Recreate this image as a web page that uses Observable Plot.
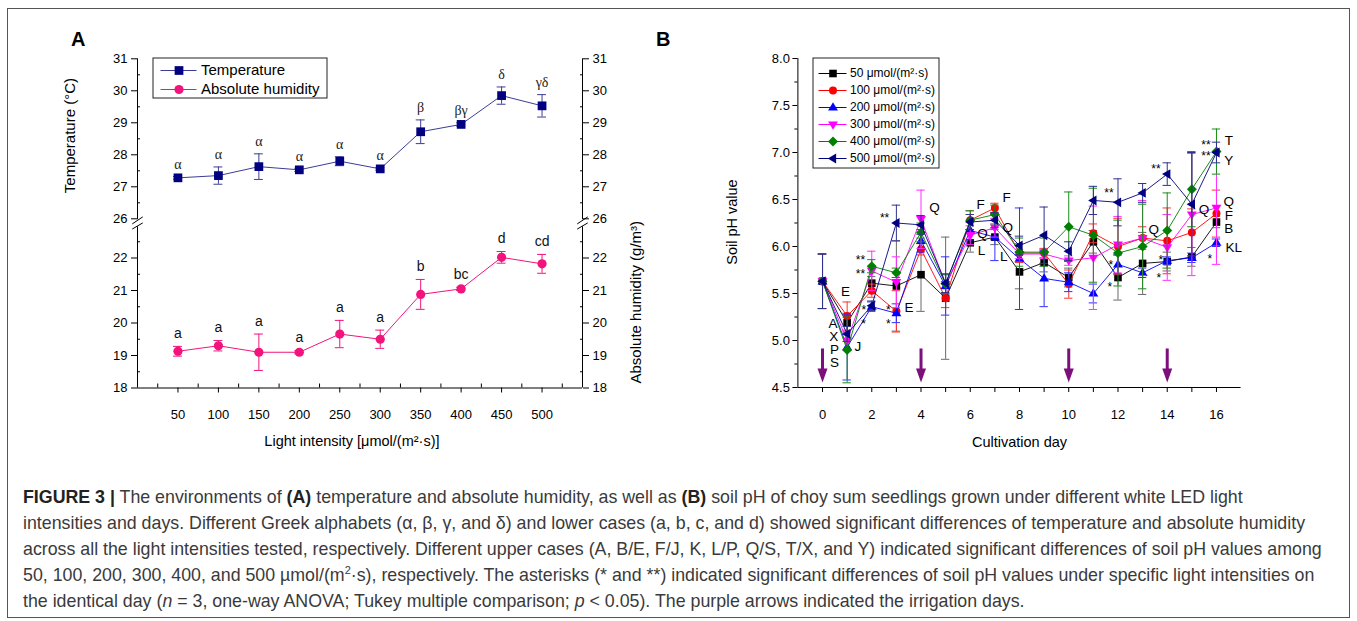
<!DOCTYPE html>
<html>
<head>
<meta charset="utf-8">
<script src="https://cdn.jsdelivr.net/npm/d3@7"></script>
<script src="https://cdn.jsdelivr.net/npm/@observablehq/plot@0.6"></script>
<style>
  body { margin: 0; background: #fff; }
  #fig { position: relative; width: 1357px; height: 621px; overflow: hidden; background: #fff;
         font-family: "Liberation Sans", Arial, sans-serif; }
  #border { position: absolute; left: 7px; top: 8px; width: 1343px; height: 610px;
            border: 1px solid #555; box-sizing: border-box; }
  .abs { position: absolute; }
  .plab { position: absolute; font-weight: bold; font-size: 20px; color: #000; }
  #caption { position: absolute; left: 23px; top: 484px; font-size: 17.8px; line-height: 26px;
             color: #3a3a3a; white-space: nowrap; }
  #caption b { color: #222; }
</style>
</head>
<body>
<div id="fig">
  <div id="border"></div>
  <div id="panelAtop" class="abs" style="left:0;top:0"></div>
  <div id="panelAbottom" class="abs" style="left:0;top:0"></div>
  <div id="legendA" class="abs" style="left:151.5px;top:56.5px"></div>
  <div id="panelB" class="abs" style="left:660px;top:0"></div>
  <div id="legendB" class="abs" style="left:812px;top:57px"></div>
  <div class="plab" style="left:71px;top:28px">A</div>
  <div class="plab" style="left:656px;top:28px">B</div>
  <div id="caption">
    <b>FIGURE 3 |</b> The environments of <b>(A)</b> temperature and absolute humidity, as well as <b>(B)</b> soil pH of choy sum seedlings grown under different white LED light<br>
    intensities and days. Different Greek alphabets (α, β, γ, and δ) and lower cases (a, b, c, and d) showed significant differences of temperature and absolute humidity<br>
    across all the light intensities tested, respectively. Different upper cases (A, B/E, F/J, K, L/P, Q/S, T/X, and Y) indicated significant differences of soil pH values among<br>
    50, 100, 200, 300, 400, and 500 µmol/(m<sup style="font-size:11px;line-height:0">2</sup>·s), respectively. The asterisks (* and **) indicated significant differences of soil pH values under specific light intensities on<br>
    the identical day (<i>n</i> = 3, one-way ANOVA; Tukey multiple comparison; <i>p</i> &lt; 0.05). The purple arrows indicated the irrigation days.
  </div>
</div>
<script>
// ---------------- Panel A data ----------------
const intensity = [50, 100, 150, 200, 250, 300, 350, 400, 450, 500];
const temperature = [27.28, 27.35, 27.63, 27.53, 27.80, 27.56, 28.72, 28.95, 29.85, 29.53];
const temperatureErr = [0.04, 0.27, 0.40, 0.05, 0.14, 0.04, 0.37, 0.05, 0.27, 0.35];
const temperatureGroups = ["α", "α", "α", "α", "α", "α", "β", "βγ", "δ", "γδ"];
const humidity = [19.13, 19.30, 19.10, 19.10, 19.66, 19.50, 20.88, 21.05, 22.02, 21.82];
const humidityErr = [0.15, 0.16, 0.56, 0.05, 0.42, 0.28, 0.46, 0.05, 0.18, 0.29];
const humidityGroups = ["a", "a", "a", "a", "a", "a", "b", "bc", "d", "cd"];
const tempTicks = [26, 27, 28, 29, 30, 31];
const humTicks = [18, 19, 20, 21, 22];
const tempMinor = [26.5, 27.5, 28.5, 29.5, 30.5];
const humMinor = [18.5, 19.5, 20.5, 21.5, 22.5];
const intensityMinor = [25, 75, 125, 175, 225, 275, 325, 375, 425, 475, 525];

// ---------------- Panel B data ----------------
const days = [0, 1, 2, 3, 4, 5, 6, 7, 8, 9, 10, 11, 12, 13, 14, 15, 16];
const seriesNames = ["50", "100", "200", "300", "400", "500"];
const ph50  = [5.63, 5.19, 5.61, 5.58, 5.70, 5.45, 6.04, 6.10, 5.73, 5.83, 5.67, 6.05, 5.67, 5.82, 5.84, 5.89, 6.26];
const ph100 = [5.63, 5.26, 5.53, 5.31, 5.97, 5.45, 6.28, 6.41, 5.93, 5.93, 5.60, 6.14, 6.00, 6.09, 6.06, 6.15, 6.35];
const ph200 = [5.63, 4.93, 5.36, 5.29, 6.06, 5.58, 6.17, 6.10, 5.87, 5.66, 5.62, 5.50, 5.81, 5.72, 5.85, 5.88, 6.04];
const ph300 = [5.63, 5.00, 5.74, 5.62, 6.29, 5.60, 6.12, 6.20, 5.92, 5.92, 5.85, 5.88, 6.02, 6.09, 5.99, 6.34, 6.41];
const ph400 = [5.63, 4.90, 5.79, 5.72, 6.15, 5.60, 6.28, 6.34, 5.94, 5.94, 6.21, 6.12, 5.93, 6.00, 6.17, 6.61, 7.01];
const ph500 = [5.63, 5.07, 5.37, 6.25, 6.23, 5.61, 6.26, 6.28, 6.01, 6.12, 5.95, 6.49, 6.47, 6.57, 6.77, 6.45, 7.00];
const err50  = [0.29, 0.10, 0.07, 0.48, 0.39, 0.65, 0.10, 0.08, 0.18, 0.10, 0.10, 0.12, 0.24, 0.33, 0.10, 0.10, 0.06];
const err100 = [0.29, 0.15, 0.07, 0.22, 0.06, 0.10, 0.10, 0.05, 0.10, 0.05, 0.15, 0.10, 0.30, 0.12, 0.35, 0.25, 0.25];
const err200 = [0.29, 0.35, 0.05, 0.10, 0.12, 0.31, 0.10, 0.25, 0.54, 0.30, 0.10, 0.10, 0.10, 0.05, 0.04, 0.05, 0.04];
const err300 = [0.29, 0.10, 0.21, 0.27, 0.31, 0.10, 0.10, 0.10, 0.05, 0.05, 0.05, 0.55, 0.30, 0.40, 0.35, 0.65, 0.60];
const err400 = [0.29, 0.35, 0.07, 0.05, 0.10, 0.10, 0.10, 0.10, 0.15, 0.15, 0.37, 0.50, 0.35, 0.45, 0.40, 0.40, 0.24];
const err500 = [0.29, 0.08, 0.05, 0.19, 0.10, 0.10, 0.08, 0.08, 0.10, 0.30, 0.10, 0.15, 0.25, 0.10, 0.12, 0.55, 0.11];
const irrigationDays = [0, 4, 10, 14];
const phTicks = [4.5, 5.0, 5.5, 6.0, 6.5, 7.0, 7.5, 8.0];
const phMinor = [4.75, 5.25, 5.75, 6.25, 6.75, 7.25, 7.75];
const dayTicks = [0, 2, 4, 6, 8, 10, 12, 14, 16];
const dayMinor = [1, 3, 5, 7, 9, 11, 13, 15];
const letterDay = [0.93, 0.43, 0.46, 0.49, 0.49, 1.44, 3.51, 4.55, 6.42, 6.50, 6.46, 7.48, 7.52, 7.36, 13.45, 15.49, 16.5, 16.5, 16.5, 16.5, 16.5, 16.7];
const letterPh  = [5.52, 5.18, 5.04, 4.90, 4.76, 4.93, 5.35, 6.41, 6.44, 6.14, 5.96, 6.52, 6.20, 5.89, 6.18, 6.39, 7.13, 6.91, 6.48, 6.33, 6.19, 5.99];
const letterText = ["E", "A", "X", "P", "S", "J", "E", "Q", "F", "Q", "L", "F", "Q", "L", "Q", "Q", "T", "Y", "Q", "F", "B", "KL"];
const starDay = [1.54, 1.54, 1.68, 1.67, 2.67, 2.67, 2.52, 11.63, 11.71, 11.67, 13.54, 13.74, 13.66, 15.57, 15.57, 15.73];
const starPh  = [5.89, 5.74, 5.35, 5.21, 5.35, 5.21, 6.33, 6.60, 5.83, 5.60, 6.86, 5.89, 5.69, 7.11, 6.99, 5.90];
const starText = ["**", "**", "*", "*", "*", "*", "**", "**", "*", "*", "**", "*", "*", "**", "**", "*"];

// ---------------- symbols ----------------
const rad = s => Math.sqrt(s / Math.PI);
const SYM = {
  square: {draw(c, s) { const h = rad(s) * 0.95; c.rect(-h, -h, 2 * h, 2 * h); }},
  circle: {draw(c, s) { const r = rad(s); c.moveTo(r, 0); c.arc(0, 0, r, 0, 2 * Math.PI); }},
  up: {draw(c, s) { const r = rad(s) * 1.3; c.moveTo(0, -r); c.lineTo(r * 0.95, r * 0.6); c.lineTo(-r * 0.95, r * 0.6); c.closePath(); }},
  down: {draw(c, s) { const r = rad(s) * 1.3; c.moveTo(0, r); c.lineTo(r * 0.95, -r * 0.6); c.lineTo(-r * 0.95, -r * 0.6); c.closePath(); }},
  diamond: {draw(c, s) { const r = rad(s) * 1.25; c.moveTo(0, -r); c.lineTo(r, 0); c.lineTo(0, r); c.lineTo(-r, 0); c.closePath(); }},
  left: {draw(c, s) { const r = rad(s) * 1.3; c.moveTo(-r, 0); c.lineTo(r * 0.6, -r * 0.95); c.lineTo(r * 0.6, r * 0.95); c.closePath(); }},
  arrowHead: {draw(c, s) { const r = rad(s); c.moveTo(-r, -1.4 * r); c.lineTo(r, -1.4 * r); c.lineTo(0, 1.4 * r); c.closePath(); }}
};

const FONT = "Liberation Sans, Arial, sans-serif";
const NAVY = "#000080", NAVY_L = "#3c3c96", PINK = "#f2137d";
const intFmt = d => String(d);

function errMarks(rows, cap, color, xk) {
  return [
    Plot.ruleX(rows, {x: xk, y1: d => d.v - d.e, y2: d => d.v + d.e, stroke: color, strokeWidth: 1}),
    Plot.ruleY(rows, {y: d => d.v + d.e, x1: d => d[xk] - cap, x2: d => d[xk] + cap, stroke: color, strokeWidth: 1}),
    Plot.ruleY(rows, {y: d => d.v - d.e, x1: d => d[xk] - cap, x2: d => d[xk] + cap, stroke: color, strokeWidth: 1})
  ];
}

// ---------------- Panel A (two stacked y sections sharing x) ----------------
const rowsT = intensity.map((x, i) => ({x, v: temperature[i], e: temperatureErr[i], g: temperatureGroups[i]}));
const rowsH = intensity.map((x, i) => ({x, v: humidity[i], e: humidityErr[i], g: humidityGroups[i]}));
const capA = 5.5;
const axisEnds = [0, 550];
const styleA = {fontFamily: FONT, fontSize: "13px", overflow: "visible", background: "transparent", color: "#000"};

const plotATop = Plot.plot({
  width: 660, height: 460,
  marginLeft: 137, marginRight: 78, marginTop: 58.3, marginBottom: 241.7,
  style: styleA,
  x: {domain: [0, 550], axis: null},
  y: {domain: [26, 31]},
  marks: [
    Plot.axisY({anchor: "left", ticks: tempTicks, tickFormat: intFmt, tickSize: 6, tickPadding: 4, fontSize: 13, label: null}),
    Plot.axisY({anchor: "left", ticks: tempMinor, tickSize: -3, text: null, label: null}),
    Plot.axisY({anchor: "right", ticks: tempTicks, tickFormat: intFmt, tickSize: 6, tickPadding: 4, fontSize: 13, label: null}),
    Plot.axisY({anchor: "right", ticks: tempMinor, tickSize: -3, text: null, label: null}),
    Plot.ruleX(axisEnds, {x: d => d, y1: 25.97, y2: 31}),
    Plot.link(axisEnds, {x1: d => d - 6.5, x2: d => d + 6.5, y1: 25.84, y2: 26.06, stroke: "#000"}),
    Plot.line(rowsT, {x: "x", y: "v", stroke: NAVY_L, strokeWidth: 1}),
    ...errMarks(rowsT, capA, NAVY_L, "x"),
    Plot.dot(rowsT, {x: "x", y: "v", symbol: SYM.square, r: 4.6, fill: NAVY, stroke: "none"}),
    Plot.text(rowsT, {x: "x", y: d => d.v + d.e, dy: -12, text: "g", fontFamily: "Liberation Serif, serif", fontSize: 14, fill: "#222"}),
    Plot.text(["Temperature (°C)"], {x: 0, y: 28.6, dx: -67, rotate: -90, fontSize: 15, fill: "#000"})
  ]
});
document.getElementById("panelAtop").append(plotATop);

const plotABottom = Plot.plot({
  width: 660, height: 460,
  marginLeft: 137, marginRight: 78, marginTop: 225, marginBottom: 72.5,
  style: styleA,
  x: {domain: [0, 550]},
  y: {domain: [18, 23]},
  marks: [
    Plot.axisY({anchor: "left", ticks: humTicks, tickFormat: intFmt, tickSize: 6, tickPadding: 4, fontSize: 13, label: null}),
    Plot.axisY({anchor: "left", ticks: humMinor, tickSize: -3, text: null, label: null}),
    Plot.axisY({anchor: "right", ticks: humTicks, tickFormat: intFmt, tickSize: 6, tickPadding: 4, fontSize: 13, label: null}),
    Plot.axisY({anchor: "right", ticks: humMinor, tickSize: -3, text: null, label: null}),
    Plot.axisX({ticks: intensity, tickFormat: intFmt, tickSize: 5, tickPadding: 17, fontSize: 13, label: null}),
    Plot.axisX({ticks: intensityMinor, tickSize: -4, text: null, label: null}),
    Plot.ruleY([18], {x1: 0, x2: 550}),
    Plot.ruleX(axisEnds, {x: d => d, y1: 18, y2: 22.96}),
    Plot.link(axisEnds, {x1: d => d - 6.5, x2: d => d + 6.5, y1: 22.89, y2: 23.08, stroke: "#000"}),
    Plot.line(rowsH, {x: "x", y: "v", stroke: PINK, strokeWidth: 1}),
    ...errMarks(rowsH, capA, PINK, "x"),
    Plot.dot(rowsH, {x: "x", y: "v", symbol: SYM.circle, r: 4.6, fill: PINK, stroke: "none"}),
    Plot.text(rowsH, {x: "x", y: d => d.v + d.e, dy: -13, text: "g", fontSize: 14, fill: "#111"}),
    Plot.text(["Absolute humidity (g/m³)"], {x: 550, y: 20.64, dx: 54, rotate: -90, fontSize: 15, fill: "#000"}),
    Plot.text(["Light intensity [μmol/(m²·s)]"], {x: 265, y: 18, dy: 53, fontSize: 14.5, fill: "#000"})
  ]
});
document.getElementById("panelAbottom").append(plotABottom);

// legend A
const legANames = ["Temperature", "Absolute humidity"];
const legAColors = [NAVY_L, PINK];
const legAFills = [NAVY, PINK];
const legASymbols = [SYM.square, SYM.circle];
const legA = Plot.plot({
  width: 175, height: 41, margin: 0.5,
  style: {fontFamily: FONT, overflow: "visible", background: "white"},
  x: {domain: [0, 1], range: [8.5, 44.5], axis: null},
  y: {type: "point", domain: legANames, range: [12.8, 31.8], padding: 0, axis: null},
  marks: [
    Plot.frame({stroke: "#222", fill: "white"}),
    ...legANames.flatMap((n, k) => [
      Plot.ruleY([n], {y: d => d, x1: 0, x2: 1, stroke: legAColors[k], strokeWidth: 1}),
      Plot.dot([n], {x: 0.5, y: d => d, symbol: legASymbols[k], r: 4.6, fill: legAFills[k]})
    ]),
    Plot.text(legANames, {x: 1, y: d => d, text: d => d, dx: 4, textAnchor: "start", fontSize: 15, fill: "#000"})
  ]
});
document.getElementById("legendA").append(legA);

// ---------------- Panel B ----------------
const phVals = [ph50, ph100, ph200, ph300, ph400, ph500];
const phErrs = [err50, err100, err200, err300, err400, err500];
const seriesColors = ["#000000", "#ff0000", "#0000ff", "#ff00ff", "#008000", "#000080"];
const errColors = ["#6a6a6a", "#ff3030", "#3030ff", "#ff30ff", "#1a8c1a", "#303090"];
const seriesSymbols = [SYM.square, SYM.circle, SYM.up, SYM.down, SYM.diamond, SYM.left];
const capB = 0.17;

const seriesMarks = seriesNames.flatMap((name, k) => {
  const rows = days.map((d, i) => ({day: d, v: phVals[k][i], e: phErrs[k][i]}));
  return [
    Plot.line(rows, {x: "day", y: "v", stroke: seriesColors[k], strokeWidth: 0.9}),
    ...errMarks(rows, capB, errColors[k], "day"),
    Plot.dot(rows, {x: "day", y: "v", symbol: seriesSymbols[k], r: 4, fill: seriesColors[k], stroke: "none"})
  ];
});

const letters = letterText.map((t, i) => ({day: letterDay[i], ph: letterPh[i], t}));
const stars = starText.map((t, i) => ({day: starDay[i], ph: starPh[i], t}));

const plotB = Plot.plot({
  width: 697, height: 460,
  marginLeft: 137.4, marginRight: 116.4, marginTop: 58, marginBottom: 73,
  style: {fontFamily: FONT, fontSize: "13px", overflow: "visible", background: "transparent", color: "#000"},
  x: {domain: [-1, 17]},
  y: {domain: [4.5, 8.0]},
  marks: [
    Plot.axisY({ticks: phTicks, tickFormat: d => d.toFixed(1), tickSize: 5, tickPadding: 3, fontSize: 13, label: null}),
    Plot.axisY({ticks: phMinor, tickSize: 3, text: null, label: null}),
    Plot.axisX({ticks: dayTicks, tickFormat: intFmt, tickSize: 5, tickPadding: 17, fontSize: 13, label: null}),
    Plot.axisX({ticks: dayMinor, tickSize: 5, text: null, label: null}),
    Plot.ruleX([-1], {y1: 4.5, y2: 8.0}),
    Plot.ruleY([4.5], {x1: -1, x2: 17}),
    ...seriesMarks,
    Plot.ruleX(irrigationDays, {x: d => d, y1: 4.91, y2: 4.66, stroke: "#7d0f7d", strokeWidth: 3}),
    Plot.dot(irrigationDays, {x: d => d, y: 4.628, symbol: SYM.arrowHead, r: 5, fill: "#7d0f7d", stroke: "none"}),
    Plot.text(letters, {x: "day", y: "ph", text: "t", fontSize: 13.5, fill: "#000"}),
    Plot.text(stars, {x: "day", y: "ph", text: "t", dy: 3, fontSize: 12, fill: "#000"}),
    Plot.text(["Soil pH value"], {x: -1, y: 6.26, dx: -66, rotate: -90, fontSize: 14.5, fill: "#000"}),
    Plot.text(["Cultivation day"], {x: 8, y: 4.5, dy: 55, fontSize: 14.5, fill: "#000"})
  ]
});
document.getElementById("panelB").append(plotB);

// legend B
const legBLabels = seriesNames.map(n => `${n} μmol/(m²·s)`);
const legB = Plot.plot({
  width: 127, height: 111, margin: 0.5,
  style: {fontFamily: FONT, overflow: "visible", background: "white"},
  x: {domain: [0, 1], range: [6.5, 34.5], axis: null},
  y: {type: "point", domain: seriesNames, range: [13.7, 103.2], padding: 0, axis: null},
  marks: [
    Plot.frame({stroke: "#222", fill: "white"}),
    ...seriesNames.flatMap((n, k) => [
      Plot.ruleY([n], {y: d => d, x1: 0, x2: 1, stroke: seriesColors[k], strokeWidth: 1}),
      Plot.dot([n], {x: 0.5, y: d => d, symbol: seriesSymbols[k], r: 4, fill: seriesColors[k]})
    ]),
    Plot.text(seriesNames, {x: 1, y: d => d, text: (d, i) => legBLabels[i], dx: 3, textAnchor: "start", fontSize: 12, fill: "#000"})
  ]
});
document.getElementById("legendB").append(legB);
</script>
</body>
</html>
